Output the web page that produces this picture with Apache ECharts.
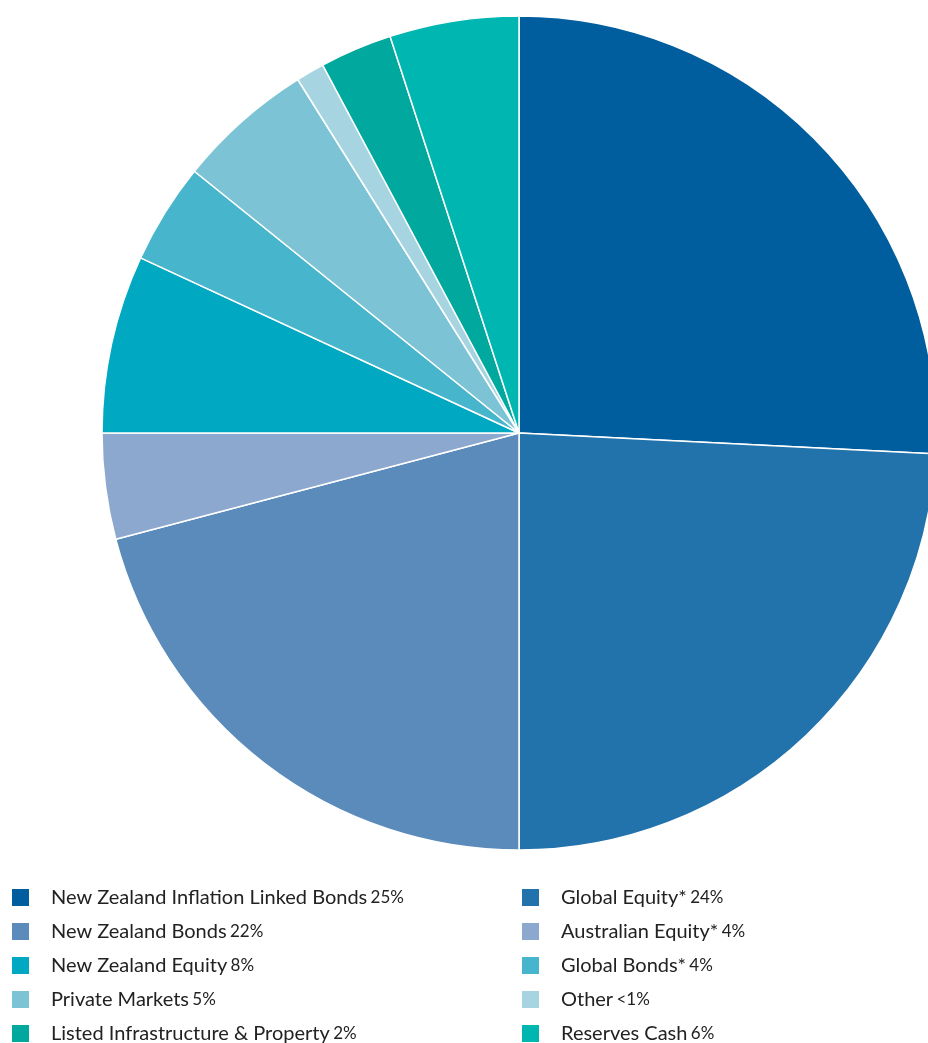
<!DOCTYPE html>
<html>
<head>
<meta charset="utf-8">
<script src="https://cdn.jsdelivr.net/npm/echarts@6/dist/echarts.min.js"></script>
<style>
  html, body { margin: 0; padding: 0; background: #fff; }
  #chart { width: 928px; height: 1043px; }
</style>
</head>
<body>
<div id="chart"></div>
<script>
  // slice order clockwise from 12 o'clock
  const names = [
    "New Zealand Inflation Linked Bonds",
    "Global Equity*",
    "New Zealand Bonds",
    "Australian Equity*",
    "New Zealand Equity",
    "Global Bonds*",
    "Private Markets",
    "Other",
    "Listed Infrastructure & Property",
    "Reserves Cash"
  ];
  // shares
  const shares = [25.8, 24.2, 20.9, 4.1, 6.9, 3.9, 5.3, 1.1, 2.8, 5.0];
  // labels as printed in the legend
  const pctLabels = ["25%", "24%", "22%", "4%", "8%", "4%", "5%", "<1%", "2%", "6%"];
  const colors = [
    "#005e9e", "#2272ab", "#5b8bbb", "#8ca8cf", "#00a8c2",
    "#47b5cb", "#7cc4d5", "#a6d5e1", "#00a89e", "#00b6b0"
  ];

  const pctOf = {};
  names.forEach((n, i) => { pctOf[n] = pctLabels[i]; });

  const legendBase = {
    orient: "vertical",
    top: 887,
    height: 200,
    padding: 0,
    icon: "rect",
    itemWidth: 19,
    itemHeight: 19,
    itemGap: 13,
    selectedMode: false,
    formatter: n => "{n|" + n + "} {p|" + pctOf[n] + "}",
    textStyle: {
      padding: [0, 0, 0, 16],
      rich: {
        n: { fontFamily: "Lato", fontSize: 20, color: "#222" },
        p: { fontFamily: "Lato", fontSize: 17, color: "#222" }
      }
    }
  };

  const chart = echarts.init(document.getElementById("chart"), null, { renderer: "canvas" });
  chart.setOption({
    animation: false,
    color: colors,
    legend: [
      Object.assign({}, legendBase, { left: 10, data: names.filter((n, i) => i % 2 === 0) }),
      Object.assign({}, legendBase, { left: 520, data: names.filter((n, i) => i % 2 === 1) })
    ],
    series: [{
      type: "pie",
      center: [519, 433],
      radius: 417,
      startAngle: 90,
      clockwise: true,
      label: { show: false },
      labelLine: { show: false },
      emphasis: { disabled: true },
      itemStyle: { borderColor: "#fff", borderWidth: 1.5 },
      data: names.map((n, i) => ({ name: n, value: shares[i] }))
    }]
  });
</script>
</body>
</html>
